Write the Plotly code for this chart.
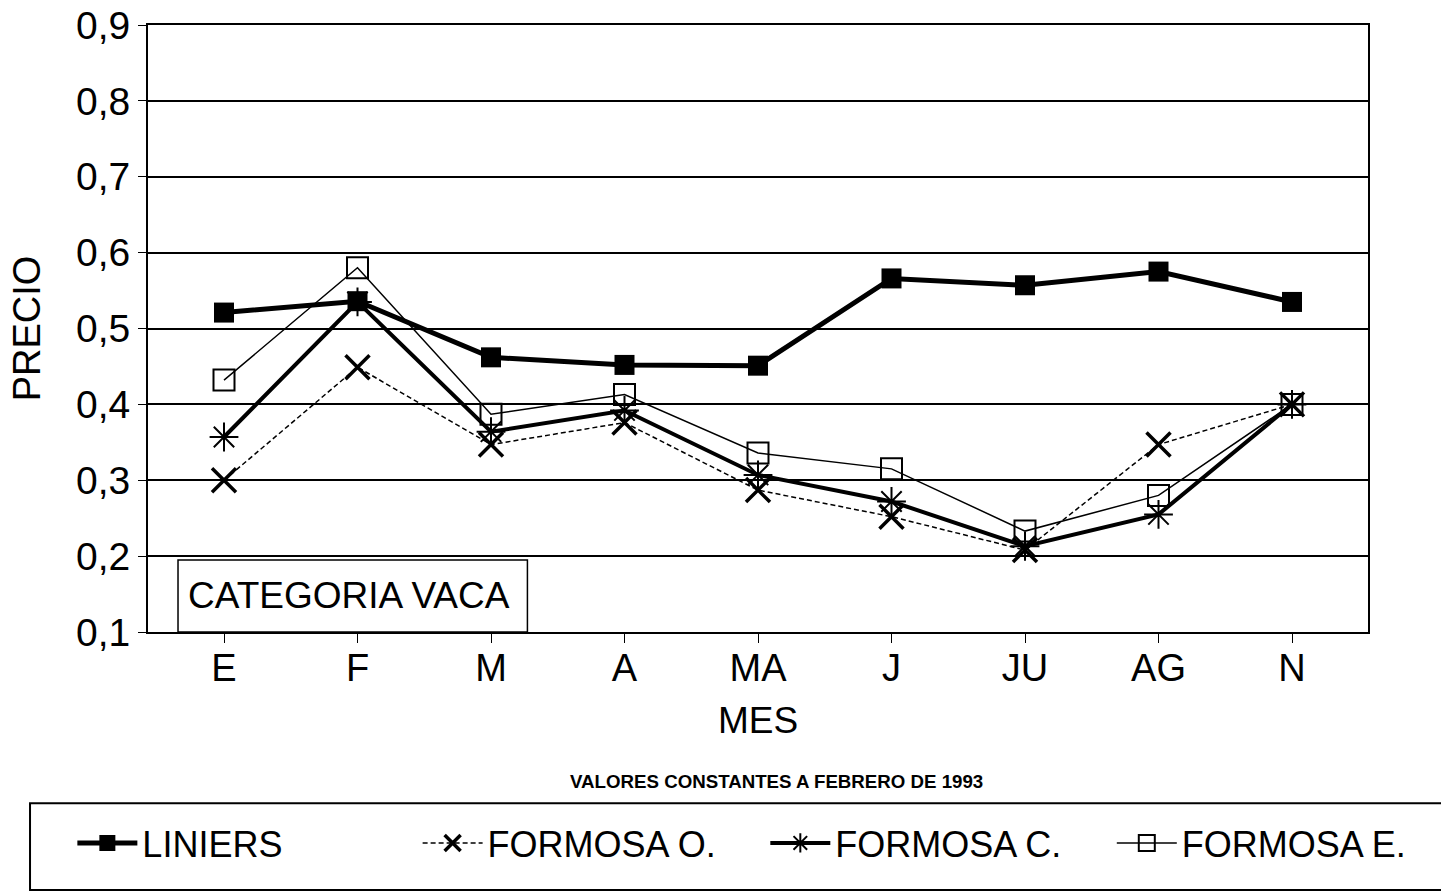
import plotly.graph_objects as go

# Meses (eje categórico)
meses = ["E", "F", "M", "A", "MA", "J", "JU", "AG", "N"]

# Precios
liniers = [0.521, 0.536, 0.462, 0.452, 0.451, 0.566, 0.557, 0.575, 0.535]
formosa_o = [0.300, 0.449, 0.347, 0.376, 0.287, 0.252, 0.208, 0.347, 0.400]
formosa_c = [0.357, 0.535, 0.364, 0.392, 0.307, 0.272, 0.213, 0.255, 0.400]
formosa_e = [0.432, 0.580, 0.387, 0.413, 0.336, 0.315, 0.233, 0.280, 0.400]

y_ticks = [0.1, 0.2, 0.3, 0.4, 0.5, 0.6, 0.7, 0.8, 0.9]

FONT = "Liberation Sans"

fig = go.Figure()

fig.add_trace(go.Scatter(
    x=meses, y=liniers, name="LINIERS", mode="lines+markers", legend="legend",
    line=dict(color="black", width=5),
    marker=dict(symbol="square", size=20, color="black"),
))

fig.add_trace(go.Scatter(
    x=meses, y=formosa_o, name="FORMOSA O.", mode="lines+markers", legend="legend2",
    line=dict(color="black", width=1.5, dash="5px,3px"),
    marker=dict(symbol="x-thin", size=24, line=dict(color="black", width=3.5)),
))

fig.add_trace(go.Scatter(
    x=meses, y=formosa_c, name="FORMOSA C.", mode="lines+markers", legend="legend3",
    line=dict(color="black", width=4),
    marker=dict(symbol="asterisk", size=24, line=dict(color="black", width=2)),
))

fig.add_trace(go.Scatter(
    x=meses, y=formosa_e, name="FORMOSA E.", mode="lines+markers", legend="legend4",
    line=dict(color="black", width=1.5),
    marker=dict(symbol="square-open", size=21, color="black",
                line=dict(color="black", width=2)),
))

# recuadro "CATEGORIA VACA"
fig.add_shape(type="rect", xref="paper", yref="y",
              x0=0.0246, x1=0.311, y0=0.1, y1=0.195,
              line=dict(color="black", width=1.5), fillcolor="white", layer="above")
fig.add_annotation(text="CATEGORIA VACA", xref="paper", yref="y",
                   x=0.1645, y=0.1475, xanchor="center", yanchor="middle",
                   showarrow=False,
                   font=dict(family=FONT, size=37, color="black"))

fig.add_annotation(text="<b>VALORES CONSTANTES A FEBRERO DE 1993</b>",
                   xref="paper", yref="paper", x=0.515, y=-0.2455,
                   xanchor="center", yanchor="middle",
                   showarrow=False, font=dict(family=FONT, size=18.7, color="black"))

# marco de la leyenda
fig.add_shape(type="rect", xref="paper", yref="paper",
              x0=-0.0967, x1=1.08, y0=-0.282, y1=-0.425,
              line=dict(color="black", width=2))

leg = dict(
    orientation="h", xanchor="left", y=-0.3476, yanchor="middle",
    font=dict(family=FONT, size=36, color="black"),
    bgcolor="rgba(0,0,0,0)", itemwidth=60,
)

fig.update_layout(
    width=1441, height=892,
    margin=dict(l=148, r=73, t=25, b=260),
    plot_bgcolor="white", paper_bgcolor="white",
    separators=",.",
    showlegend=True,
    legend=dict(leg, x=-0.062),
    legend2=dict(leg, x=0.221),
    legend3=dict(leg, x=0.506),
    legend4=dict(leg, x=0.79),
    xaxis=dict(
        title=dict(text="MES", font=dict(family=FONT, size=37, color="black"), standoff=20),
        automargin=False,
        showline=True, linecolor="black", linewidth=2, mirror=True,
        ticks="outside", ticklen=9, tickcolor="black", ticklabelstandoff=-8,
        tickfont=dict(family=FONT, size=38, color="black"),
        showgrid=False,
    ),
    yaxis=dict(
        title=dict(text="PRECIO", font=dict(family=FONT, size=38, color="black"), standoff=24),
        automargin=False,
        range=[0.1, 0.9], tickvals=y_ticks, tickformat=".1f",
        showline=True, linecolor="black", linewidth=2, mirror=True,
        ticks="outside", ticklen=8, tickcolor="black",
        tickfont=dict(family=FONT, size=39, color="black"),
        showgrid=True, gridcolor="black", gridwidth=1.5, zeroline=False,
    ),
)

# sin margen del body para que la figura empiece en (0, 0)
fig.write_html("out.html", config={"displayModeBar": False},
               post_script="document.body.style.margin='0';")
